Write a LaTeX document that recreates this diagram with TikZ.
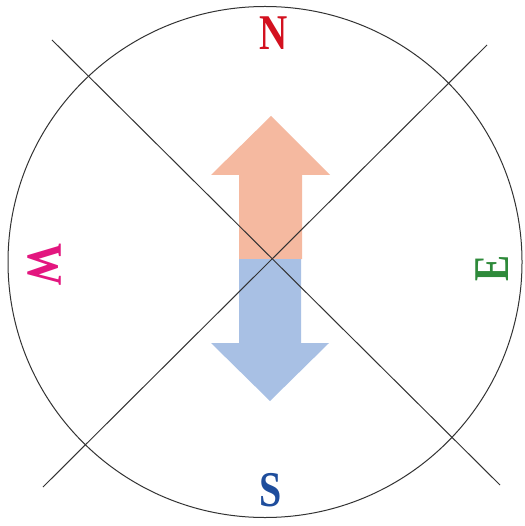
\documentclass[tikz,border=0pt]{standalone}
\usepackage{fontspec}
\setmainfont{Liberation Serif}
\definecolor{peach}{HTML}{F5B9A0}
\definecolor{skyb}{HTML}{A8C0E4}
\definecolor{nred}{HTML}{D3111F}
\definecolor{wmag}{HTML}{E3167F}
\definecolor{egrn}{HTML}{2E8A3A}
\definecolor{sblu}{HTML}{1E4D9C}
\begin{document}
\begin{tikzpicture}[x=1pt,y=-1pt,
  rim/.style={draw=black!80,line width=1pt},
  axisline/.style={draw=black!80,line width=1pt},
  letter/.style={inner sep=0pt,font=\fontsize{50}{50}\selectfont\bfseries}]
\useasboundingbox (0,0) rectangle (524,526);
\fill[white] (0,0) rectangle (524,526);
% arrow halves
\fill[peach] (239,259) -- (239,175) -- (211,175) -- (271,116) -- (330,175) -- (302,175) -- (302,259) -- cycle;
\fill[skyb] (239,259) -- (239,343) -- (211,343) -- (270,401) -- (329,343) -- (301,343) -- (301,259) -- cycle;
% circle
\coordinate (c) at (265,262);
\draw[rim] (c) ellipse [x radius=257, y radius=255.5];
% diagonal lines
\coordinate (a1) at (52,40);
\coordinate (a2) at (500,485);
\coordinate (b1) at (487,45);
\coordinate (b2) at (43,487);
\draw[axisline] (a1) -- (a2);
\draw[axisline] (b1) -- (b2);
% letters
\node[letter,text=nred] (n) at (274,33) {\scalebox{0.78}[1]{N}};
\node[letter,text=sblu] (s) at (271,490) {\scalebox{0.8}[1]{S}};
\node[letter,text=wmag,rotate=-90] (w) at (44,265) {\scalebox{0.85}[1]{W}};
\node[letter,text=egrn,rotate=90] (e) at (492,268) {\scalebox{0.78}[1]{E}};
\end{tikzpicture}
\end{document}
